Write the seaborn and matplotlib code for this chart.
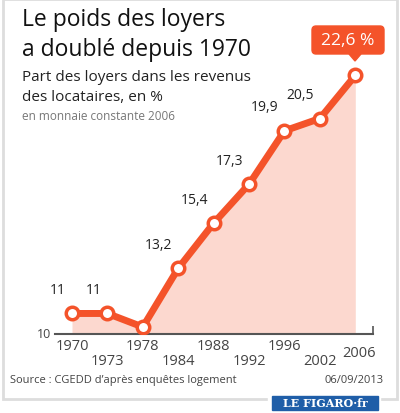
import matplotlib
matplotlib.use("Agg")
import matplotlib.pyplot as plt
import seaborn as sns
import pandas as pd
from matplotlib.patches import Rectangle, FancyBboxPatch, Polygon

years = ["1970", "1973", "1978", "1984", "1988", "1992", "1996", "2002", "2006"]
values = [11, 11, 10.34, 13.2, 15.4, 17.3, 19.9, 20.5, 22.6]
labels = ["11", "11", "", "13,2", "15,4", "17,3", "19,9", "20,5", ""]

sns.set_style("white")
plt.rcParams["font.family"] = ["Open Sans", "DejaVu Sans"]
W, H = 400, 414
fig = plt.figure(figsize=(4, 4.14), dpi=100)
fig.patch.set_facecolor("white")
ax = fig.add_axes([55 / W, 79 / H, 318 / W, 275 / H])
df = pd.DataFrame({"i": range(len(years)), "v": values})
orange = "#f4532a"
ax.fill_between(df["i"], 10, df["v"], color="#fcd8cf", lw=0, zorder=1)
sns.lineplot(data=df, x="i", y="v", ax=ax, color=orange, lw=5, marker="o",
             markersize=9, markerfacecolor="white", markeredgecolor=orange,
             markeredgewidth=2.5, zorder=3)
ax.set_xlim(-0.48, 8.5)
ax.set_ylim(10, 23.4)
for s in ["top", "right", "left"]:
    ax.spines[s].set_visible(False)
ax.spines["bottom"].set_color("#555555")
ax.spines["bottom"].set_linewidth(1.5)
ax.set_xticks([i + 0.5 for i in range(9)])
ax.set_xticklabels([])
ax.tick_params(axis="x", direction="in", length=6, color="#555555", width=1.2, bottom=True)
ax.set_yticks([])
ax.set_xlabel("")
ax.set_ylabel("")
ax.text(-0.6, 10, "10", ha="right", va="center", fontsize=9, color="#444444")
for i, (y, v, l) in enumerate(zip(years, values, labels)):
    ypos = -0.022 if i % 2 == 0 and i != 8 else -0.09
    if i == 8:
        ypos = -0.055
    ax.text(i, 10, y, transform=ax.get_xaxis_transform(), ha="center", va="top",
            fontsize=10.5, color="#444444") if False else None
    fig.text((72 + 35.4 * i) / W + (0.01 if i == 8 else 0), 1 - (346 if (i % 2 == 0 and i != 8) else (362 if i != 8 else 354)) / H,
             y, ha="center", va="center", fontsize=10.5, color="#444444")
    if l:
        ax.annotate(l, (i, v), xytext=(-10 if i < 3 else -14, 12), textcoords="offset points",
                    ha="center", va="bottom", fontsize=10, color="#222222")

# callout
bx, by, bw, bh = 312 / W, 1 - 55 / H, 72 / W, 28 / H
fig.patches.append(FancyBboxPatch((bx, by), bw, bh, boxstyle="round,pad=0,rounding_size=0.01",
                                  transform=fig.transFigure, color=orange, zorder=5))
fig.patches.append(Polygon([[349 / W, by], [361 / W, by], [355 / W, 1 - 62 / H]],
                           closed=True, transform=fig.transFigure, color=orange, zorder=5))
fig.text(bx + bw / 2, by + bh / 2, "22,6 %", ha="center", va="center", fontsize=12.5,
         color="white", zorder=6)

fig.text(22 / W, 1 - 20 / H, "Le poids des loyers", fontsize=16.5, va="center", color="#111111")
fig.text(22 / W, 1 - 50 / H, "a doublé depuis 1970", fontsize=16.5, va="center", color="#111111")
fig.text(22 / W, 1 - 78 / H, "Part des loyers dans les revenus", fontsize=11, va="center", color="#222222")
fig.text(22 / W, 1 - 98 / H, "des locataires, en %", fontsize=11, va="center", color="#222222")
fig.text(22 / W, 1 - 116 / H, "en monnaie constante 2006", fontsize=8.5, va="center", color="#777777")
fig.text(10 / W, 1 - 381 / H, "Source : CGEDD d’après enquêtes logement", fontsize=8, va="center", color="#444444")
fig.text(384 / W, 1 - 381 / H, "06/09/2013", fontsize=8, va="center", ha="right", color="#444444")

fig.patches.append(Rectangle((3 / W, 1 - 400 / H), 394 / W, 400 / H, transform=fig.transFigure,
                             fill=False, ec="#dddddd", lw=2, zorder=0))
fig.patches.append(Rectangle((268 / W, 0.5 / H), 112 / W, 18 / H, transform=fig.transFigure,
                             color="white", zorder=6))
fig.patches.append(Rectangle((272 / W, 3 / H), 106 / W, 14 / H, transform=fig.transFigure,
                             color="#1f5ea8", zorder=7))
fig.text(325 / W, 10 / H, "LE FIGARO·fr", fontsize=8, ha="center", va="center", color="white",
         fontweight="bold", family="DejaVu Serif", zorder=8)
fig.savefig("out.png", dpi=100)
